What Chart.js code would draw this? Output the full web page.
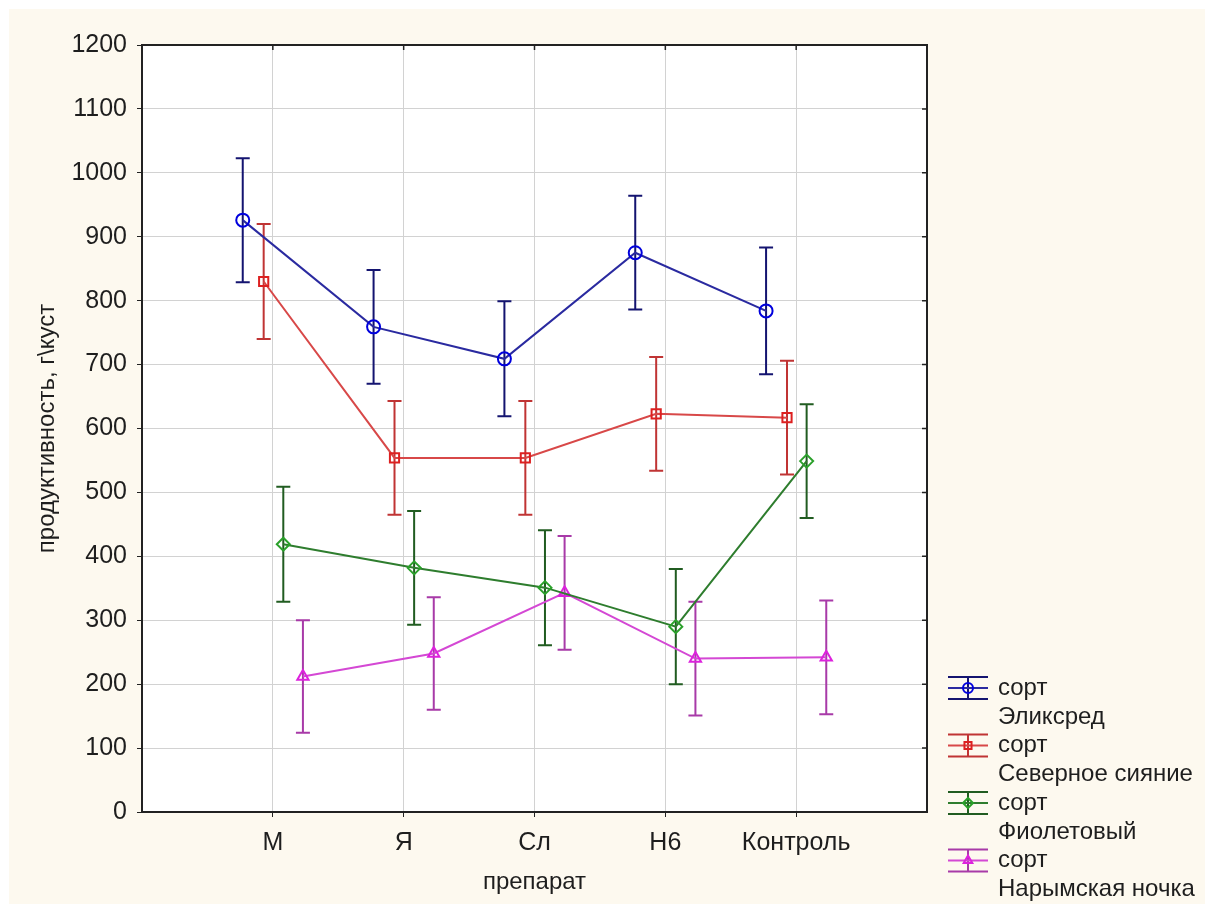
<!DOCTYPE html>
<html>
<head>
<meta charset="utf-8">
<script src="https://cdn.jsdelivr.net/npm/chart.js@4.4.1/dist/chart.umd.min.js"></script>
<style>
  html, body { margin: 0; padding: 0; background: #ffffff; }
  #wrap { position: absolute; left: 9px; top: 9px; width: 1196px; height: 895px; background: #fdf9ef; }
  canvas { display: block; }
</style>
</head>
<body>
<div id="wrap"><canvas id="myChart" width="1196" height="895"></canvas></div>
<script>
// categories on the x axis
const categories = ['М', 'Я', 'Сл', 'Н6', 'Контроль'];
const seriesNames = ['Эликсред', 'Северное сияние', 'Фиолетовый', 'Нарымская ночка'];

// means and half-widths of the error bars
const elixred = [926, 759, 709, 875, 784];
const elixredErr = [97, 89, 90, 89, 99];
const severnoe = [830, 554, 554, 623, 617];
const severnoeErr = [90, 89, 89, 89, 89];
const fioletovy = [419, 382, 351, 290, 549];
const fioletovyErr = [90, 89, 90, 90, 89];
const narymskaya = [212, 248, 343, 240, 242];
const narymskayaErr = [88, 88, 89, 89, 89];

const yTicks = [0, 100, 200, 300, 400, 500, 600, 700, 800, 900, 1000, 1100, 1200];

const FONT = 'Arial, "Liberation Sans", sans-serif';
const TEXT = '#1e1e1e';

const styles = [
    { line: '#2a2aa0', point: '#0000dd', err: '#141470', shape: 'circle', offset: -0.23 },
    { line: '#d84848', point: '#dd2020', err: '#c03434', shape: 'rect', offset: -0.07 },
    { line: '#2e7d2e', point: '#2aa02a', err: '#215c21', shape: 'rectRot', offset: 0.08 },
    { line: '#d448d4', point: '#dd22dd', err: '#a83aa8', shape: 'triangle', offset: 0.23 }
];

const means = [elixred, severnoe, fioletovy, narymskaya];
const errs = [elixredErr, severnoeErr, fioletovyErr, narymskayaErr];

const datasets = means.map((vals, i) => ({
    label: 'сорт ' + seriesNames[i],
    data: vals.map((v, j) => ({ x: j + 1 + styles[i].offset, y: v, e: errs[i][j] })),
    showLine: true,
    borderColor: styles[i].line,
    borderWidth: 2,
    pointStyle: styles[i].shape,
    pointRadius: 6.5,
    pointBorderWidth: 2,
    pointBorderColor: styles[i].point,
    pointBackgroundColor: 'rgba(255,255,255,0)'
}));

// white plot area on the beige page
const plotBackground = {
    id: 'plotBackground',
    beforeDraw(chart) {
        const { ctx, chartArea: a } = chart;
        ctx.save();
        ctx.fillStyle = '#ffffff';
        ctx.fillRect(a.left, a.top, a.right - a.left, a.bottom - a.top);
        ctx.restore();
    }
};

// error bars drawn through the chart's own scales
const errorBars = {
    id: 'errorBars',
    beforeDatasetsDraw(chart) {
        const { ctx, scales: { x, y } } = chart;
        ctx.save();
        ctx.lineWidth = 2;
        chart.data.datasets.forEach((ds, i) => {
            ctx.strokeStyle = styles[i].err;
            ds.data.forEach(p => {
                const px = x.getPixelForValue(p.x);
                const top = y.getPixelForValue(p.y + p.e);
                const bot = y.getPixelForValue(p.y - p.e);
                ctx.beginPath();
                ctx.moveTo(px, top); ctx.lineTo(px, bot);
                ctx.moveTo(px - 7, top); ctx.lineTo(px + 7, top);
                ctx.moveTo(px - 7, bot); ctx.lineTo(px + 7, bot);
                ctx.stroke();
            });
        });
        ctx.restore();
    }
};

// frame with inward ticks on top and right, plus the legend
const frameAndLegend = {
    id: 'frameAndLegend',
    afterDraw(chart) {
        const { ctx, chartArea: a, scales: { x, y } } = chart;
        ctx.save();
        ctx.strokeStyle = '#222';
        ctx.lineWidth = 2;
        ctx.strokeRect(a.left, a.top, a.right - a.left, a.bottom - a.top);
        ctx.lineWidth = 1.5;
        ctx.beginPath();
        x.ticks.forEach(t => {
            const px = x.getPixelForValue(t.value);
            ctx.moveTo(px, a.top); ctx.lineTo(px, a.top + 5);
        });
        y.ticks.forEach(t => {
            const py = y.getPixelForValue(t.value);
            ctx.moveTo(a.right, py); ctx.lineTo(a.right - 5, py);
        });
        ctx.stroke();

        // legend
        const lx = 959, ly = 679, step = 57.5;
        ctx.font = '24px ' + FONT;
        ctx.textBaseline = 'middle';
        ctx.textAlign = 'left';
        seriesNames.forEach((name, i) => {
            const cy = ly + i * step;
            const s = styles[i];
            ctx.lineWidth = 2;
            ctx.strokeStyle = s.err;
            ctx.beginPath();
            ctx.moveTo(lx - 20, cy - 11); ctx.lineTo(lx + 20, cy - 11);
            ctx.moveTo(lx - 20, cy + 11); ctx.lineTo(lx + 20, cy + 11);
            ctx.moveTo(lx, cy - 11); ctx.lineTo(lx, cy + 11);
            ctx.stroke();
            ctx.strokeStyle = s.line;
            ctx.beginPath();
            ctx.moveTo(lx - 20, cy); ctx.lineTo(lx + 20, cy);
            ctx.stroke();
            ctx.strokeStyle = s.point;
            ctx.fillStyle = 'rgba(255,255,255,0)';
            Chart.helpers.drawPoint(ctx, {
                pointStyle: s.shape, radius: 5, borderWidth: 2, rotation: 0
            }, lx, cy);
            ctx.fillStyle = TEXT;
            ctx.fillText('сорт', lx + 30, cy);
            ctx.fillText(name, lx + 30, cy + 29);
        });
        ctx.restore();
    }
};

const ctx = document.getElementById('myChart').getContext('2d');
const myChart = new Chart(ctx, {
    type: 'scatter',
    data: { datasets: datasets },
    options: {
        responsive: false,
        animation: false,
        layout: { padding: { left: 0, top: 36, right: 278, bottom: 0 } },
        plugins: {
            legend: { display: false },
            tooltip: { enabled: false }
        },
        scales: {
            x: {
                type: 'linear',
                min: 0,
                max: 6,
                afterBuildTicks: axis => {
                    axis.ticks = categories.map((c, i) => ({ value: i + 1 }));
                },
                afterFit: axis => { axis.height = 92; },
                ticks: {
                    autoSkip: false,
                    maxRotation: 0,
                    padding: 11,
                    color: TEXT,
                    font: { family: FONT, size: 25 },
                    callback: v => categories[v - 1] || ''
                },
                grid: { color: '#d2d2d2', lineWidth: 1, tickLength: 5, tickColor: '#222' },
                border: { color: '#222', width: 2 },
                title: {
                    display: true,
                    text: 'препарат',
                    color: TEXT,
                    font: { family: FONT, size: 24 },
                    padding: { top: 0, bottom: 7 }
                }
            },
            y: {
                min: 0,
                max: 1200,
                afterBuildTicks: axis => {
                    axis.ticks = yTicks.map(v => ({ value: v }));
                },
                afterFit: axis => { axis.width = 133; },
                ticks: {
                    padding: 10,
                    color: TEXT,
                    font: { family: FONT, size: 25 },
                    callback: v => String(v)
                },
                grid: { color: '#d2d2d2', lineWidth: 1, tickLength: 5, tickColor: '#222' },
                border: { color: '#222', width: 2 },
                title: {
                    display: true,
                    text: 'продуктивность, г\\куст',
                    color: TEXT,
                    font: { family: FONT, size: 24 },
                    padding: { top: 24, bottom: 0 }
                }
            }
        }
    },
    plugins: [plotBackground, errorBars, frameAndLegend]
});
</script>
</body>
</html>
